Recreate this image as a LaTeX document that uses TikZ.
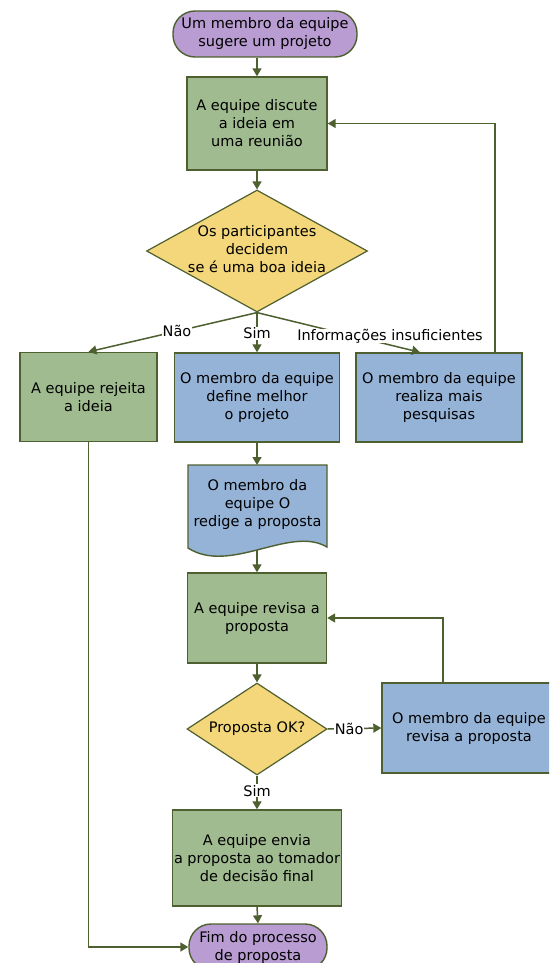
\documentclass[tikz,border=0pt]{standalone}
\usepackage{fontspec}
\setmainfont{DejaVu Sans}
\usetikzlibrary{shapes.geometric,arrows.meta}
\definecolor{gfill}{HTML}{A0BB8F}
\definecolor{bfill}{HTML}{95B3D7}
\definecolor{yfill}{HTML}{F4D77A}
\definecolor{pfill}{HTML}{B99CD2}
\definecolor{edge}{HTML}{4F6030}
\definecolor{ln}{HTML}{4F6030}
\begin{document}
\begin{tikzpicture}[x=1pt,y=-1pt,
  font=\fontsize{14.5}{18}\selectfont,
  box/.style={draw=edge, line width=1.4pt, align=center, inner sep=0pt},
  gbox/.style={box, fill=gfill},
  bbox/.style={box, fill=bfill},
  term/.style={box, fill=pfill, rounded corners=22pt},
  dec/.style={draw=edge, line width=1.2pt, fill=yfill, diamond, inner sep=0pt},
  conn/.style={draw=ln, line width=1.5pt, -{Triangle[width=9pt,length=8pt]}},
  lab/.style={fill=white, inner sep=1pt}]
\clip (0,0) rectangle (549,963);
\fill[white] (0,0) rectangle (549,963);

% nodes
\node[term, minimum width=184pt, minimum height=46pt] (start) at (265,34) {Um membro da equipe\\sugere um projeto};
\node[gbox, minimum width=140pt, minimum height=93pt] (disc) at (257,123.5) {A equipe discute\\a ideia em\\uma reunião};
\node[dec, minimum width=221pt, minimum height=122pt] (dec1) at (257,251) {};
\node[align=center] (dec1t) at (257,249) {Os participantes\\decidem\\se é uma boa ideia};
\node[gbox, minimum width=137pt, minimum height=89pt] (rej) at (88.5,397) {A equipe rejeita\\a ideia};
\node[bbox, minimum width=165pt, minimum height=89pt] (mid) at (257,397.5) {O membro da equipe\\define melhor\\o projeto};
\node[bbox, minimum width=166pt, minimum height=89pt] (res) at (439,397.5) {O membro da equipe\\realiza mais\\pesquisas};

\draw[box, fill=bfill] (188,465) -- (327,465) -- (327,547) .. controls (290,525) and (230,575) .. (188,548) -- cycle;
\node[align=center] (doc) at (257.5,504) {O membro da\\equipe O\\redige a proposta};
\coordinate (doctop) at (257,465);
\coordinate (docbot) at (257,549.5);

\node[gbox, minimum width=139pt, minimum height=90pt] (rev) at (257,618) {A equipe revisa a\\proposta};
\node[dec, minimum width=140pt, minimum height=92pt] (dec2) at (257,729) {};
\node (dec2t) at (257,729) {Proposta OK?};
\node[bbox, minimum width=174pt, minimum height=90pt] (rb2) at (469,728) {O membro da equipe\\revisa a proposta};
\node[gbox, minimum width=169pt, minimum height=96pt] (env) at (257,858) {A equipe envia\\a proposta ao tomador\\de decisão final};
\node[term, minimum width=138pt, minimum height=46pt] (end) at (258,947) {Fim do processo\\de proposta};

% helper coordinates
\path (res.north) ++(-19,0) coordinate (resin);
\path (res.north) ++(56,0) coordinate (resout);
\path (rb2.north) ++(-26,0) coordinate (rbout);

% connectors
\draw[conn] (start.south -| disc.north) -- (disc.north);
\draw[conn] (disc.south) -- (dec1.north);
\draw[conn] (dec1.south) -- (rej.north) node[lab, pos=0.475] (lnao) {Não};
\draw[conn] (dec1.south) -- (mid.north) node[lab, pos=0.52] (lsim) {Sim};
\draw[conn] (dec1.south) -- (resin);
\node[lab, inner sep=0pt] (linfo) at (390,336) {Informações insuficientes};
\draw[conn] (resout) |- (disc.east);
\draw[conn] (mid.south) -- (doctop);
\draw[conn] (docbot) -- (rev.north);
\draw[conn] (rev.south) -- (dec2.north);
\draw[conn] (dec2.east) -- (rb2.west) node[lab, pos=0.4] (lnao2) {Não};
\draw[conn] (rbout) |- (rev.east);
\draw[conn] (dec2.south) -- (env.north) node[lab, pos=0.45] (lsim2) {Sim};
\draw[conn] (env.south) -- (end.north);
\draw[conn] (rej.south) |- (end.west);
\end{tikzpicture}
\end{document}
